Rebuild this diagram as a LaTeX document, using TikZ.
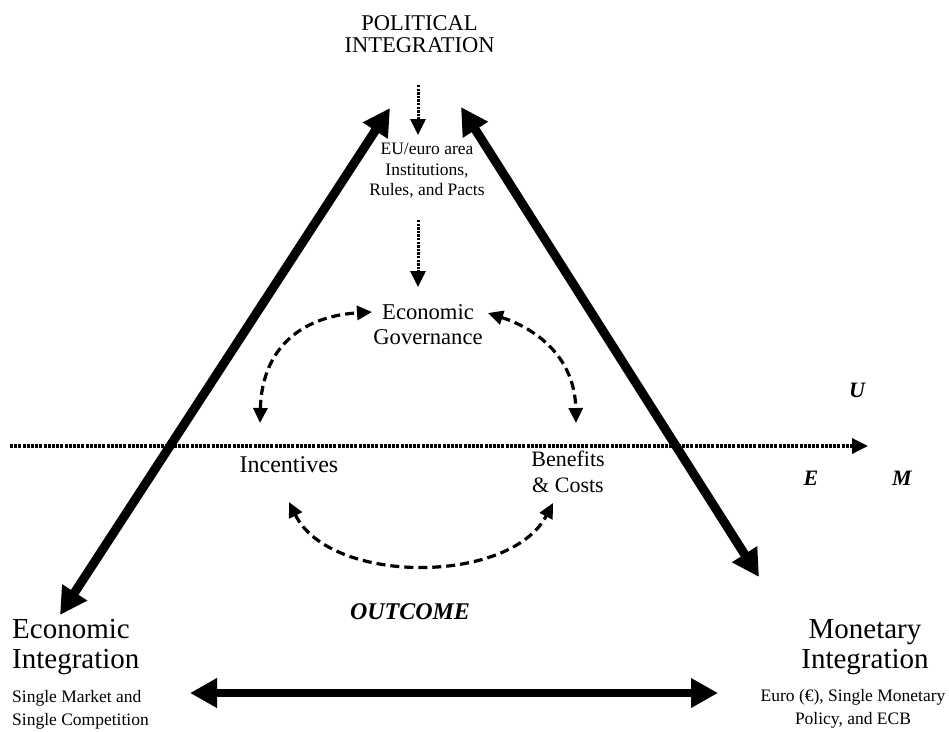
\documentclass[tikz,border=0pt]{standalone}
\usepackage{fontspec}
\setmainfont{Liberation Serif}
\usetikzlibrary{arrows.meta,positioning}
\tikzset{
  bigarr/.style={line width=9pt,{Triangle[length=27pt,width=28pt]}-{Triangle[length=27pt,width=28pt]}},
  dotarr/.style={line width=3pt,dash pattern=on 2.4pt off 1.2pt,-{Triangle[length=16pt,width=15pt]}},
  dasharr/.style={line width=3.2pt,dash pattern=on 9pt off 5pt,{Triangle[length=15pt,width=14pt]}-{Triangle[length=15pt,width=14pt]}},
  lbl/.style={inner sep=0pt,align=center},
  emu/.style={inner sep=0pt,anchor=base,font=\fontsize{22}{22}\selectfont\bfseries\itshape}
}
\begin{document}
\begin{tikzpicture}[x=1pt,y=-1pt]
\useasboundingbox (0,0) rectangle (949,731);
\node[lbl,anchor=north,font=\fontsize{22.5}{22}\selectfont](pol)at(419.5,15){POLITICAL\\INTEGRATION};
\node[lbl,anchor=north,font=\fontsize{17.5}{20.5}\selectfont](eu)at(427,143){EU/euro area\\Institutions,\\Rules, and Pacts};
\node[lbl,anchor=north,font=\fontsize{22.6}{25}\selectfont](gov)at(428,304){Economic\\Governance};
\node[inner sep=0pt,anchor=base,font=\fontsize{24}{25}\selectfont](inc)at(289,472){Incentives};
\node[lbl,anchor=north,font=\fontsize{22}{26}\selectfont](ben)at(568,451){Benefits\\\& Costs};
\node[emu](ulbl)at(857,397){U};
\node[emu](elbl)at(811,485){E};
\node[emu](mlbl)at(902,485){M};
\node[emu,font=\fontsize{24}{24}\selectfont\bfseries\itshape](outc)at(410,619){OUTCOME};
\node[lbl,align=left,anchor=north west,font=\fontsize{29}{30}\selectfont](econ)at(12,619){Economic\\Integration};
\node[lbl,anchor=north,font=\fontsize{29}{30}\selectfont](mon)at(865,619){Monetary\\Integration};
\node[lbl,align=left,anchor=north west,font=\fontsize{17.5}{23}\selectfont](sm)at(12,690){Single Market and\\Single Competition};
\node[lbl,anchor=north,font=\fontsize{17.5}{23}\selectfont](euro)at(853,689){Euro (€), Single Monetary\\Policy, and ECB};
\coordinate(polL)at(390,108);\coordinate(polR)at(461,107);
\coordinate(econT)at(60,615);\coordinate(monT)at(759,577);
\coordinate(econR)at(190,693);\coordinate(monL)at(718,693);
\coordinate(polB)at(418,85);\coordinate(euT)at(418,135);
\coordinate(euB)at(418,220);\coordinate(govT)at(418,287);
\coordinate(govL)at(372,312);\coordinate(govR)at(488,313);
\coordinate(incT)at(260,423);\coordinate(benT)at(576,423);
\coordinate(incB)at(289,502);\coordinate(benB)at(553,503);
\coordinate(ax0)at(10,446);\coordinate(ax1)at(868,446);
\draw[dotarr,line width=3.4pt,dash pattern=on 3pt off 1.2pt](ax0)--(ax1);
\draw[dotarr](polB)--(euT);
\draw[dotarr](euB)--(govT);
\draw[dasharr](incT)..controls(262,345)and(305,316)..(govL);
\draw[dasharr](govR)..controls(540,330)and(575,360)..(benT);
\draw[dasharr](incB)..controls(330,585)and(510,585)..(benB);
\draw[bigarr](econT)--(polL);
\draw[bigarr](monT)--(polR);
\draw[bigarr,line width=8pt](econR)--(monL);
\end{tikzpicture}
\end{document}
